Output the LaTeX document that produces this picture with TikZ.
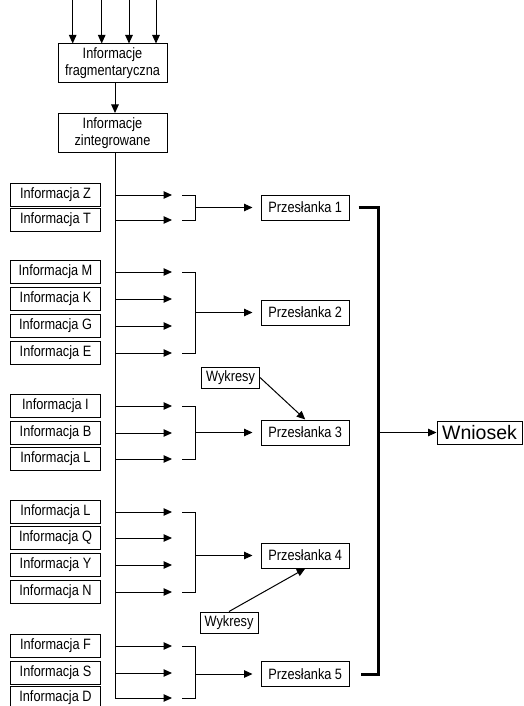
\documentclass[tikz,border=0pt]{standalone}
\usepackage{fontspec}
\setmainfont{Liberation Sans}
\newfontfamily\narrowfont{Liberation Sans}[FakeStretch=0.85]
\usetikzlibrary{arrows.meta}
\begin{document}
\begin{tikzpicture}[x=1pt,y=-1pt,
  box/.style={draw, line width=1pt, inner sep=0pt, align=center,
    font=\narrowfont\fontsize{15}{17}\selectfont},
  info/.style={box, minimum width=90pt, minimum height=23pt},
  prem/.style={box, minimum width=88.5pt, minimum height=25pt},
  wyk/.style={box, minimum width=58pt, minimum height=21pt},
  topbox/.style={box, minimum width=109pt, minimum height=39pt},
  finalbox/.style={draw, line width=1pt, inner sep=0pt, minimum width=85pt, minimum height=23pt,
    font=\fontsize{19.5}{22}\selectfont},
  ln/.style={line width=1pt},
  arr/.style={ln, -{Triangle[length=8.5pt,width=7.5pt]}},
  heavy/.style={line width=3pt, line join=miter}
]
\clip (0,0) rectangle (523,706);
% reference columns
\coordinate (spine) at (115,0);
\coordinate (tip) at (172,0);
\coordinate (arm) at (182,0);
\coordinate (br) at (195.5,0);
\coordinate (rail) at (378.5,0);
% top
\node[topbox] (frag) at (112.5,63.5) {Informacje\\fragmentaryczna};
\node[topbox] (integ) at (112.5,133) {Informacje\\zintegrowane};
\foreach \x [count=\i] in {72.7,101.7,129,156}{
  \coordinate (in\i) at (\x,0);
  \draw[arr] (in\i) -- (in\i |- frag.north);
}
\draw[arr] (frag.south -| spine) -- (integ.north -| spine);
% info boxes
\foreach \n/\t/\y in {Z/Z/195, T/T/220,
    M/M/272, K/K/299, G/G/326, E/E/353,
    I/I/406, B/B/433, La/L/459,
    Lb/L/512, Q/Q/538, Y/Y/565, N/N/592,
    F/F/646, S/S/673, D/D/698}{
  \node[info] (i\n) at (55.5,\y) {Informacja \t};
  \draw[arr] (spine |- i\n) -- (tip |- i\n);
}
\draw[ln] (integ.south -| spine) -- (spine |- iD);
% premises
\node[prem] (p1) at (305.25,207.5) {Przesłanka 1};
\node[prem] (p2) at (305.25,312.5) {Przesłanka 2};
\node[prem] (p3) at (305.25,432.5) {Przesłanka 3};
\node[prem] (p4) at (305.25,555.5) {Przesłanka 4};
\node[prem] (p5) at (305.25,674) {Przesłanka 5};
% brackets
\foreach \a/\b/\p in {Z/T/p1, M/E/p2, I/La/p3, Lb/N/p4, F/D/p5}{
  \draw[ln] (arm |- i\a) -| (br |- i\b) -- (arm |- i\b);
  \draw[arr] (br |- \p) -- ([xshift=-8pt]\p.west);
}
% charts
\node[wyk] (w1) at (230.5,377.5) {Wykresy};
\node[wyk] (w2) at (229,622.5) {Wykresy};
\draw[arr] (w1.east) -- (p3.north);
\draw[arr] (w2.north) -- (p4.south);
% conclusion
\node[finalbox] (wn) at (479.5,432.5) {Wniosek};
\draw[heavy] ([xshift=8.5pt]p1.east) -| (rail |- p5) -- ([xshift=10.5pt]p5.east);
\draw[arr] (rail |- wn) -- (wn.west);
\end{tikzpicture}
\end{document}
